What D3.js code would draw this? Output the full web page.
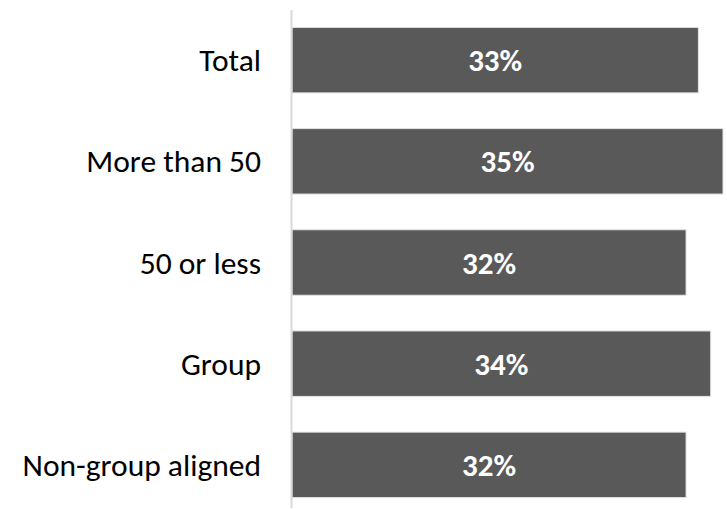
<!DOCTYPE html>
<html>
<head>
<meta charset="utf-8">
<script src="https://cdn.jsdelivr.net/npm/d3@7"></script>
<style>
  html, body { margin: 0; padding: 0; background: #ffffff; }
  svg { display: block; }
  .cat { font-family: Calibri, Carlito, Lato, "Open Sans", sans-serif; fill: #000000; }
  .val { font-family: Calibri, Carlito, Lato, "Open Sans", sans-serif; font-weight: 700; fill: #ffffff; }
</style>
</head>
<body>
<div id="chart"></div>
<script>
// Share by group
const categories = ["Total", "More than 50", "50 or less", "Group", "Non-group aligned"];
const values = [33, 35, 32, 34, 32];
const valueLabels = ["33%", "35%", "32%", "34%", "32%"];

const width = 727, height = 509;
const axisX = 292;

const svg = d3.select("#chart").append("svg")
  .attr("width", width)
  .attr("height", height);

const x = d3.scaleLinear().domain([0, 35]).range([axisX, 723]);
const y = d3.scaleBand().domain(categories)
  .range([9.5, 515.5])
  .paddingInner(0.353)
  .paddingOuter(0.177);

const rows = categories.map((c, i) => ({ cat: c, v: values[i], label: valueLabels[i] }));

// bars
svg.append("g").selectAll("rect")
  .data(rows)
  .join("rect")
  .attr("x", x(0))
  .attr("y", d => y(d.cat))
  .attr("width", d => x(d.v) - x(0))
  .attr("height", y.bandwidth())
  .attr("fill", "#595959")
  .attr("stroke", "#e3e3e3")
  .attr("stroke-width", 1);

// category axis line
svg.append("line")
  .attr("x1", axisX - 0.5).attr("x2", axisX - 0.5)
  .attr("y1", 10).attr("y2", 508)
  .attr("stroke", "#d9d9d9")
  .attr("stroke-width", 2);

// category labels
svg.append("g").selectAll("text")
  .data(rows)
  .join("text")
  .attr("class", "cat")
  .attr("x", 261)
  .attr("y", d => y(d.cat) + y.bandwidth() / 2)
  .attr("text-anchor", "end")
  .attr("dominant-baseline", "central")
  .style("font-size", "31.5px")
  .text(d => d.cat);

// value labels centred in bars
svg.append("g").selectAll("text")
  .data(rows)
  .join("text")
  .attr("class", "val")
  .attr("x", d => (x(0) + x(d.v)) / 2)
  .attr("y", d => y(d.cat) + y.bandwidth() / 2)
  .attr("text-anchor", "middle")
  .attr("dominant-baseline", "central")
  .style("font-size", "31px")
  .text(d => d.label);
</script>
</body>
</html>
